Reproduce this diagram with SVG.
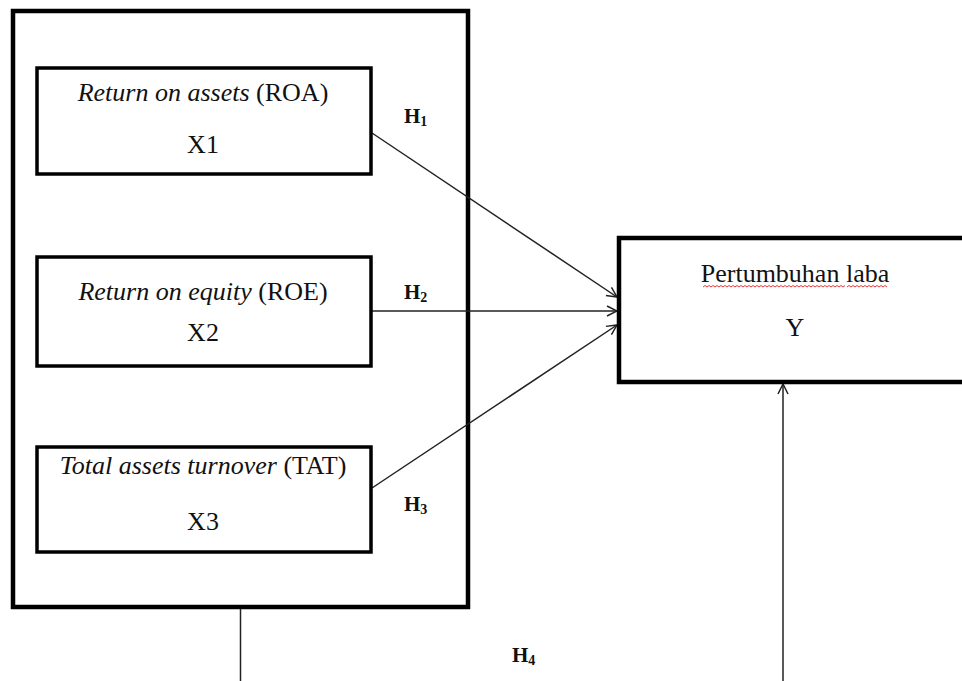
<svg xmlns="http://www.w3.org/2000/svg" width="962" height="681" viewBox="0 0 962 681">
<style>
.box{fill:#fff;stroke:#000;}
.t{font-family:"Liberation Serif","Times New Roman",serif;font-size:26px;fill:#111;text-anchor:middle;}
.i{font-style:italic;}
.h{font-family:"Liberation Serif","Times New Roman",serif;font-size:21px;font-weight:bold;fill:#111;}
.sub{font-size:14px;}
.c{stroke:#222;stroke-width:1.5;fill:none;}
.wave{stroke:#e03a3a;stroke-width:1;fill:none;}
</style>
<defs>
<marker id="arr" viewBox="0 0 12 12" refX="11" refY="6" markerWidth="12" markerHeight="12" markerUnits="userSpaceOnUse" orient="auto">
<path d="M1,1 L11,6 L1,11" fill="none" stroke="#222" stroke-width="1.5"/>
</marker>
</defs>
<rect width="962" height="681" fill="#fff"/>
<g id="outer">
<rect class="box" x="13" y="11" width="455" height="596" stroke-width="4.5"/>
</g>
<g id="connectors">
<line class="c" x1="372" y1="133" x2="617" y2="297" marker-end="url(#arr)"/>
<line class="c" x1="372" y1="311" x2="617" y2="311" marker-end="url(#arr)"/>
<line class="c" x1="372" y1="488" x2="617" y2="325" marker-end="url(#arr)"/>
<line class="c" x1="240.5" y1="609" x2="240.5" y2="681"/>
<line class="c" x1="783" y1="681" x2="783" y2="384" marker-end="url(#arr)"/>
</g>
<g id="x1">
<rect class="box" x="37" y="68" width="334" height="106" stroke-width="3.5"/>
<text class="t" x="203" y="101"><tspan class="i">Return on assets</tspan> (ROA)</text>
<text class="t" x="203" y="153">X1</text>
</g>
<g id="x2">
<rect class="box" x="37" y="257" width="334" height="109" stroke-width="3.5"/>
<text class="t" x="203" y="300"><tspan class="i">Return on equity</tspan> (ROE)</text>
<text class="t" x="203" y="341">X2</text>
</g>
<g id="x3">
<rect class="box" x="37" y="447" width="334" height="105" stroke-width="3.5"/>
<text class="t" x="203" y="474"><tspan class="i">Total assets turnover</tspan> (TAT)</text>
<text class="t" x="203" y="530">X3</text>
</g>
<g id="y">
<rect class="box" x="619" y="238" width="360" height="144" stroke-width="4.5"/>
<text class="t" x="795" y="282">Pertumbuhan laba</text>
<path class="wave" d="M703,287 l2,-1.5 l2,1.5 l2,-1.5 l2,1.5 l2,-1.5 l2,1.5 l2,-1.5 l2,1.5 l2,-1.5 l2,1.5 l2,-1.5 l2,1.5 l2,-1.5 l2,1.5 l2,-1.5 l2,1.5 l2,-1.5 l2,1.5 l2,-1.5 l2,1.5 l2,-1.5 l2,1.5 l2,-1.5 l2,1.5 l2,-1.5 l2,1.5 l2,-1.5 l2,1.5 l2,-1.5 l2,1.5 l2,-1.5 l2,1.5 l2,-1.5 l2,1.5 l2,-1.5 l2,1.5 l2,-1.5 l2,1.5 l2,-1.5 l2,1.5 l2,-1.5 l2,1.5 l2,-1.5 l2,1.5 l2,-1.5 l2,1.5 l2,-1.5 l2,1.5 l2,-1.5 l2,1.5 l2,-1.5 l2,1.5 l2,-1.5 l2,1.5 l2,-1.5 l2,1.5 l2,-1.5 l2,1.5 l2,-1.5 l2,1.5 l2,-1.5 l2,1.5 l2,-1.5 l2,1.5 l2,-1.5 l2,1.5 l2,-1.5 l2,1.5 l2,-1.5 l2,1.5 l2,-1.5"/>
<path class="wave" d="M847,287 l2,-1.5 l2,1.5 l2,-1.5 l2,1.5 l2,-1.5 l2,1.5 l2,-1.5 l2,1.5 l2,-1.5 l2,1.5 l2,-1.5 l2,1.5 l2,-1.5 l2,1.5 l2,-1.5 l2,1.5 l2,-1.5 l2,1.5 l2,-1.5 l2,1.5"/>
<text class="t" x="795" y="336">Y</text>
</g>
<g id="labels">
<text class="h" x="404" y="123">H<tspan class="sub" dy="3">1</tspan></text>
<text class="h" x="404" y="299">H<tspan class="sub" dy="3">2</tspan></text>
<text class="h" x="404" y="511">H<tspan class="sub" dy="3">3</tspan></text>
<text class="h" x="512" y="662">H<tspan class="sub" dy="3">4</tspan></text>
</g>
</svg>
